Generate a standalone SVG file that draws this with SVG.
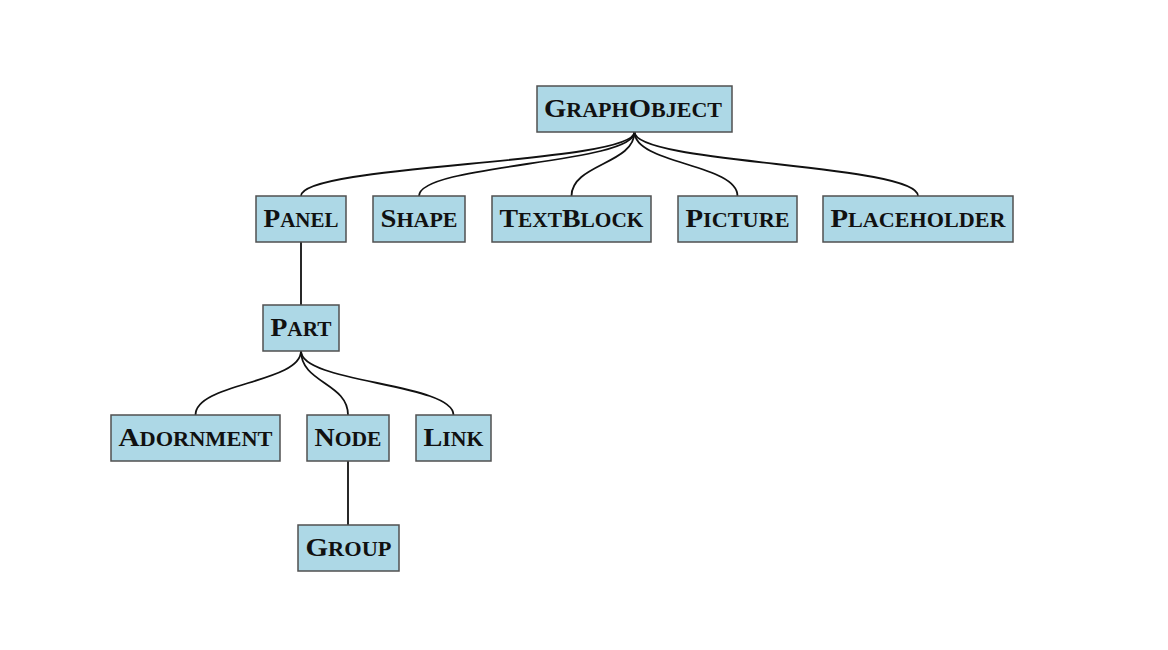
<svg xmlns="http://www.w3.org/2000/svg" width="1168" height="650" viewBox="0 0 1168 650">
<style>
.box{fill:#add8e6;stroke:#505050;stroke-width:1.5}
.lbl{font-family:"Liberation Serif","Times New Roman",serif;font-weight:bold;font-size:20px;fill:#111;text-anchor:middle}
.c{font-size:26px}
.edge{fill:none;stroke:#111;stroke-width:1.8}
</style>
<rect width="1168" height="650" fill="#fff"/>
<g id="connectors">
<path class="edge" d="M634.5,132 C634.5,164 301,164 301,196"/>
<path class="edge" d="M634.5,132 C634.5,164 419,164 419,196"/>
<path class="edge" d="M634.5,132 C634.5,164 571.5,164 571.5,196"/>
<path class="edge" d="M634.5,132 C634.5,164 737.5,164 737.5,196"/>
<path class="edge" d="M634.5,132 C634.5,164 918,164 918,196"/>
<path class="edge" d="M301,242 L301,305"/>
<path class="edge" d="M301,351 C301,383 195.5,383 195.5,415"/>
<path class="edge" d="M301,351 C301,383 348,383 348,415"/>
<path class="edge" d="M301,351 C301,383 453.5,383 453.5,415"/>
<path class="edge" d="M348,461 L348,525"/>
</g>
<g id="GraphObject"><rect class="box" x="537" y="86" width="195" height="46"/><text class="lbl" x="633" y="117" textLength="178" lengthAdjust="spacingAndGlyphs"><tspan class="c">G</tspan>RAPH<tspan class="c">O</tspan>BJECT</text></g>
<g id="Panel"><rect class="box" x="256" y="196" width="90" height="46"/><text class="lbl" x="301" y="227" textLength="75" lengthAdjust="spacingAndGlyphs"><tspan class="c">P</tspan>ANEL</text></g>
<g id="Shape"><rect class="box" x="373" y="196" width="92" height="46"/><text class="lbl" x="419" y="227" textLength="77" lengthAdjust="spacingAndGlyphs"><tspan class="c">S</tspan>HAPE</text></g>
<g id="TextBlock"><rect class="box" x="492" y="196" width="159" height="46"/><text class="lbl" x="571.5" y="227" textLength="144" lengthAdjust="spacingAndGlyphs"><tspan class="c">T</tspan>EXT<tspan class="c">B</tspan>LOCK</text></g>
<g id="Picture"><rect class="box" x="678" y="196" width="119" height="46"/><text class="lbl" x="737.5" y="227" textLength="104" lengthAdjust="spacingAndGlyphs"><tspan class="c">P</tspan>ICTURE</text></g>
<g id="Placeholder"><rect class="box" x="823" y="196" width="190" height="46"/><text class="lbl" x="918" y="227" textLength="175" lengthAdjust="spacingAndGlyphs"><tspan class="c">P</tspan>LACEHOLDER</text></g>
<g id="Part"><rect class="box" x="263" y="305" width="76" height="46"/><text class="lbl" x="301" y="336" textLength="61" lengthAdjust="spacingAndGlyphs"><tspan class="c">P</tspan>ART</text></g>
<g id="Adornment"><rect class="box" x="111" y="415" width="169" height="46"/><text class="lbl" x="195.5" y="446" textLength="154" lengthAdjust="spacingAndGlyphs"><tspan class="c">A</tspan>DORNMENT</text></g>
<g id="Node"><rect class="box" x="307" y="415" width="82" height="46"/><text class="lbl" x="348" y="446" textLength="67" lengthAdjust="spacingAndGlyphs"><tspan class="c">N</tspan>ODE</text></g>
<g id="Link"><rect class="box" x="416" y="415" width="75" height="46"/><text class="lbl" x="453.5" y="446" textLength="60" lengthAdjust="spacingAndGlyphs"><tspan class="c">L</tspan>INK</text></g>
<g id="Group"><rect class="box" x="298" y="525" width="101" height="46"/><text class="lbl" x="348.5" y="556" textLength="86" lengthAdjust="spacingAndGlyphs"><tspan class="c">G</tspan>ROUP</text></g>
</svg>
